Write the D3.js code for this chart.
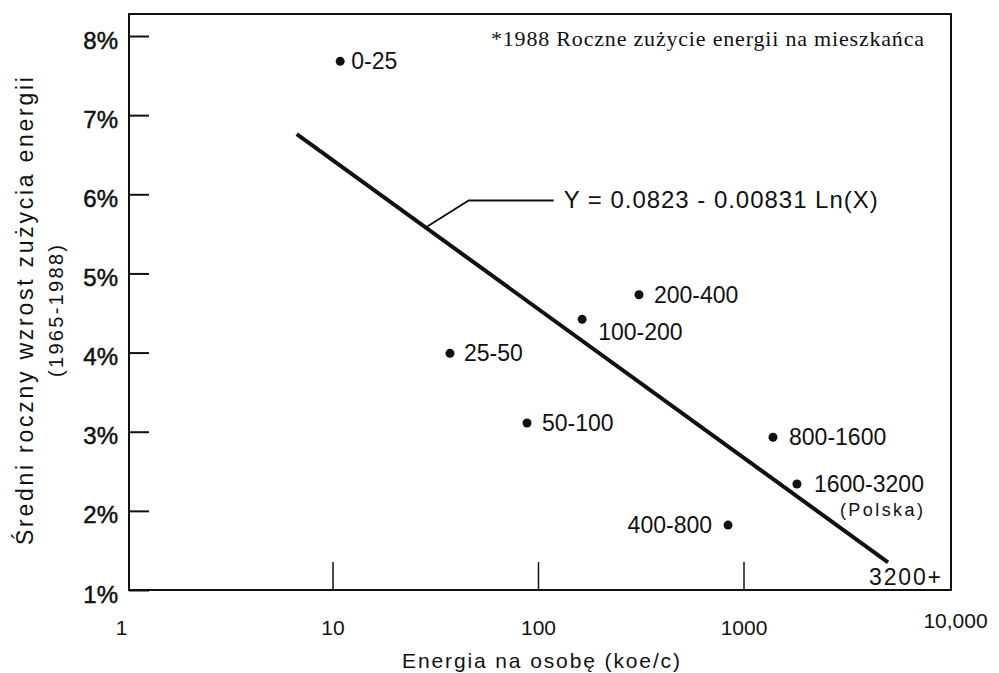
<!DOCTYPE html>
<html>
<head>
<meta charset="utf-8">
<script src="https://cdn.jsdelivr.net/npm/d3@7"></script>
<style>
  body { margin: 0; background: #fff; }
  svg text { font-family: "Liberation Sans", Arial, sans-serif; fill: #111; }
</style>
</head>
<body>
<svg id="chart"></svg>
<script>
// data
var groups = ["0-25", "25-50", "50-100", "100-200", "200-400", "400-800", "800-1600", "1600-3200"];
var energy = [10.9, 37.3, 88.4, 164, 310, 841, 1392, 1820];   // koe/c
var growth = [7.68, 3.99, 3.11, 4.42, 4.73, 1.82, 2.93, 2.34]; // %

// regression line end points (as drawn)
var fitX = [6.7, 5050];
var fitY = [6.76, 1.35];
var fitLabel = "Y = 0.0823 - 0.00831 Ln(X)";
var endLabel = "3200+";

var xTicks = [1, 10, 100, 1000, 10000];
var xTickLabels = ["1", "10", "100", "1000", "10,000"];
var yTicks = [1, 2, 3, 4, 5, 6, 7, 8];

var width = 999,
    height = 673;

var svg = d3.select("#chart")
    .attr("width", width)
    .attr("height", height);

var x = d3.scaleLog()
    .domain([1, 10000])
    .range([127, 949]);

var y = d3.scaleLinear()
    .domain([1, 8])
    .range([590, 36]);

// frame
svg.append("rect")
    .attr("x", 129)
    .attr("y", 14)
    .attr("width", 822)
    .attr("height", 576)
    .attr("fill", "none")
    .attr("stroke", "#111")
    .attr("stroke-width", 2);

// y axis, ticks pointing in
var yAxis = svg.append("g")
    .attr("transform", "translate(129,0)")
    .call(d3.axisLeft(y)
        .tickValues(yTicks)
        .tickSize(-20)
        .tickPadding(11)
        .tickFormat(function(d) { return d + "%"; }));
yAxis.select(".domain").remove();
yAxis.selectAll("line").attr("stroke", "#111").attr("stroke-width", 2);
yAxis.selectAll("text")
    .attr("font-size", 24)
    .attr("dy", "0.5em")
    .style("font-family", "'Liberation Sans', Arial, sans-serif")
    .attr("fill", "#111")
    .attr("stroke", "#111")
    .attr("stroke-width", 0.5);

// x axis
var xAxis = svg.append("g")
    .attr("transform", "translate(0,590)")
    .call(d3.axisBottom(x)
        .tickValues(xTicks)
        .tickSize(-28)
        .tickPadding(30)
        .tickFormat(function(d, i) { return xTickLabels[i]; }));
xAxis.select(".domain").remove();
xAxis.selectAll("line").attr("stroke", "#111").attr("stroke-width", 1.5);
xAxis.selectAll("text")
    .attr("font-size", 21)
    .style("font-family", "'Liberation Sans', Arial, sans-serif")
    .attr("fill", "#111");
xAxis.selectAll(".tick").filter(function(d) { return d === 1; })
    .select("text").attr("dx", -6);
xAxis.selectAll(".tick").filter(function(d) { return d === 10000; })
    .select("text").attr("dx", 6).attr("y", 23);
xAxis.selectAll(".tick").filter(function(d) { return d === 1 || d === 10000; })
    .select("line").remove();

// axis titles
svg.append("text")
    .attr("x", 541)
    .attr("y", 668)
    .attr("text-anchor", "middle")
    .attr("font-size", 21)
    .attr("textLength", 278)
    .text("Energia na osobę (koe/c)");

svg.append("text")
    .attr("transform", "translate(33,311) rotate(-90)")
    .attr("text-anchor", "middle")
    .attr("font-size", 23)
    .attr("textLength", 468)
    .text("Średni roczny wzrost zużycia energii");

svg.append("text")
    .attr("transform", "translate(63,311) rotate(-90)")
    .attr("text-anchor", "middle")
    .attr("font-size", 20)
    .attr("textLength", 132)
    .text("(1965-1988)");

// note
svg.append("text")
    .attr("x", 491)
    .attr("y", 46)
    .attr("font-size", 22)
    .attr("textLength", 433)
    .style("font-family", "'Liberation Serif', 'Times New Roman', serif")
    .text("*1988 Roczne zużycie energii na mieszkańca");

// regression line
var fit = fitX.map(function(d, i) { return [d, fitY[i]]; });
svg.append("path")
    .datum(fit)
    .attr("fill", "none")
    .attr("stroke", "#111")
    .attr("stroke-width", 4)
    .attr("d", d3.line()
        .x(function(d) { return x(d[0]); })
        .y(function(d) { return y(d[1]); }));

// leader from the line to the equation
var t = 0.218;
var anchor = [x(fitX[0]) + t * (x(fitX[1]) - x(fitX[0])),
              y(fitY[0]) + t * (y(fitY[1]) - y(fitY[0]))];
svg.append("path")
    .attr("fill", "none")
    .attr("stroke", "#111")
    .attr("stroke-width", 1.8)
    .attr("d", "M" + anchor[0] + "," + anchor[1] +
               "L" + (anchor[0] + 43) + "," + (anchor[1] - 27) +
               "H" + (anchor[0] + 128));
svg.append("text")
    .attr("x", anchor[0] + 138)
    .attr("y", anchor[1] - 19)
    .attr("font-size", 24)
    .attr("textLength", 314)
    .text(fitLabel);

svg.append("text")
    .attr("x", x(fitX[1]) - 19)
    .attr("y", y(fitY[1]) + 23)
    .attr("font-size", 23)
    .attr("textLength", 72)
    .text(endLabel);

// points
var pts = groups.map(function(g, i) { return { g: g, e: energy[i], v: growth[i] }; });

// label offsets per group
var off = {
  "0-25":      [11, 8, "start"],
  "25-50":     [14, 8, "start"],
  "50-100":    [15, 8, "start"],
  "100-200":   [16, 21, "start"],
  "200-400":   [15, 8, "start"],
  "400-800":   [-16, 8, "end"],
  "800-1600":  [16, 8, "start"],
  "1600-3200": [17, 8, "start"]
};

svg.selectAll("circle.pt")
    .data(pts)
    .enter()
    .append("circle")
    .attr("class", "pt")
    .attr("cx", function(d) { return x(d.e); })
    .attr("cy", function(d) { return y(d.v); })
    .attr("r", 4.5)
    .attr("fill", "#111");

svg.selectAll("text.lbl")
    .data(pts)
    .enter()
    .append("text")
    .attr("class", "lbl")
    .attr("x", function(d) { return x(d.e) + off[d.g][0]; })
    .attr("y", function(d) { return y(d.v) + off[d.g][1]; })
    .attr("text-anchor", function(d) { return off[d.g][2]; })
    .attr("font-size", 23)
    .text(function(d) { return d.g; });

svg.append("text")
    .attr("x", x(energy[7]) + 43)
    .attr("y", y(growth[7]) + 32)
    .attr("font-size", 18)
    .attr("textLength", 83)
    .text("(Polska)");
</script>
</body>
</html>
